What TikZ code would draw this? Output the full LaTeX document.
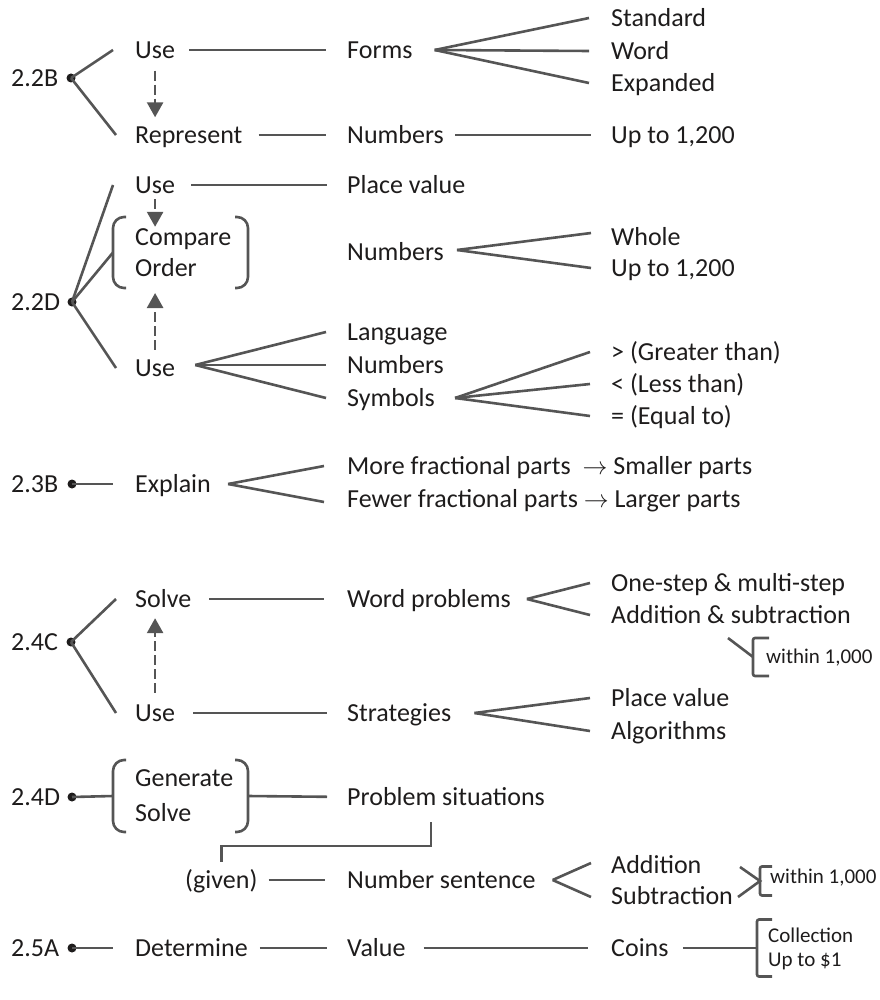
\documentclass[tikz,border=0pt]{standalone}
\usepackage{fontspec}
\setmainfont{Carlito}
\usetikzlibrary{arrows.meta}
\definecolor{lncol}{RGB}{85,85,85}
\definecolor{tx}{RGB}{30,28,28}
\begin{document}
\begin{tikzpicture}[x=1pt,y=-1pt,
  t/.style={anchor=west,inner sep=0pt,text height=17pt,text depth=0pt,font=\fontsize{26}{30}\selectfont,text=tx},
  ts/.style={anchor=west,inner sep=0pt,text height=13.5pt,text depth=0pt,font=\fontsize{21}{24}\selectfont,text=tx},
  dot/.style={circle,fill=tx,inner sep=0pt,minimum size=9pt},
  conn/.style={draw=lncol,line width=2.6pt},
  darr/.style={draw=lncol,line width=2.6pt,dash pattern=on 10pt off 4pt,-{Triangle[width=16pt,length=15pt]}},
  box/.style={inner sep=0pt,outer sep=0pt},
  bigbr/.style={draw=lncol,line width=2.6pt,rounded corners=11pt},
  smbr/.style={draw=lncol,line width=2.6pt,rounded corners=2pt}
]
\useasboundingbox (0,0) rectangle (879,1000);

% ---------- 2.2B ----------
\node[t] (l22b) at (11,78) {2.2B};
\node[dot] (b22) at (71,78) {};
\node[t] (use1) at (135,50) {Use};
\node[t] (forms) at (347,50) {Forms};
\node[t] (std) at (611,18) {Standard};
\node[t] (word) at (611,51) {Word};
\node[t] (expd) at (611,83) {Expanded};
\node[t] (rep) at (135,135) {Represent};
\node[t] (num1) at (347,135) {Numbers};
\node[t] (up1) at (611,135) {Up to 1,200};

\draw[conn] (b22.center) -- ([xshift=-22pt]use1.west);
\draw[conn] (b22.center) -- ([xshift=-19pt]rep.west);
\draw[conn,shorten <=14pt,shorten >=21pt] (use1.east) -- (forms.west);
\coordinate (fa) at ([xshift=22pt]forms.east);
\foreach \n in {std,word,expd} \draw[conn] (fa) -- ([xshift=-22pt]\n.west);
\draw[darr,shorten <=12pt,shorten >=9pt] (use1.south) -- (use1.south |- rep.north);
\draw[conn,shorten <=16pt,shorten >=21pt] (rep.east) -- (num1.west);
\draw[conn,shorten <=11pt,shorten >=20pt] (num1.east) -- (up1.west);

% ---------- 2.2D ----------
\node[t] (l22d) at (11,302) {2.2D};
\node[dot] (d22) at (72,302) {};
\node[t] (use2) at (135,185) {Use};
\node[t] (pv) at (347,185) {Place value};
\node[box,minimum width=135pt,minimum height=71pt,anchor=north west] (co) at (113,217) {};
\node[t] (cmp) at (135,237) {Compare};
\node[t] (ord) at (135,268) {Order};
\draw[bigbr] ([xshift=13pt]co.north west) -- (co.north west) -- (co.south west) -- ([xshift=13pt]co.south west);
\draw[bigbr] ([xshift=-13pt]co.north east) -- (co.north east) -- (co.south east) -- ([xshift=-13pt]co.south east);
\node[t] (num2) at (347,252) {Numbers};
\node[t] (whole) at (611,237) {Whole};
\node[t] (up2) at (611,268) {Up to 1,200};
\node[t] (use3) at (135,368) {Use};
\node[t] (lang) at (347,332) {Language};
\node[t] (num3) at (347,365) {Numbers};
\node[t] (sym) at (347,398) {Symbols};
\node[t] (gt) at (611,352) {> (Greater than)};
\node[t] (lt) at (611,384) {< (Less than)};
\node[t] (eq) at (611,416) {= (Equal to)};

\draw[conn] (d22.center) -- ([xshift=-22pt]use2.west);
\draw[conn] (d22.center) -- (co.west);
\draw[conn] (d22.center) -- ([xshift=-19pt]use3.west);
\draw[conn,shorten <=16pt,shorten >=20pt] (use2.east) -- (pv.west);
\draw[darr,shorten <=5.5pt,shorten >=1.5pt] (use2.south) -- (use2.south |- cmp.north);
\draw[darr,shorten <=9.5pt,shorten >=5pt] (use3.north) -- (use3.north |- co.south);
\coordinate (fb) at ([xshift=13pt,yshift=2pt]num2.east);
\draw[conn] (fb) -- ([xshift=-20pt,yshift=4pt]whole.west);
\draw[conn] (fb) -- ([xshift=-20pt]up2.west);
\coordinate (fc) at ([xshift=20pt,yshift=3pt]use3.east);
\foreach \n in {lang,num3,sym} \draw[conn] (fc) -- ([xshift=-21pt]\n.west);
\coordinate (fd) at ([xshift=20pt]sym.east);
\foreach \n in {gt,lt,eq} \draw[conn] (fd) -- ([xshift=-21pt]\n.west);

% ---------- 2.3B ----------
\node[t] (l23b) at (11,484) {2.3B};
\node[dot] (d23) at (72,484) {};
\node[t] (expl) at (135,484) {Explain};
\node[t] (more) at (347,466) {More fractional parts~~$\rightarrow$ Smaller parts};
\node[t] (fewer) at (347,499) {Fewer fractional parts $\rightarrow$ Larger parts};
\draw[conn] (d23.center) -- ([xshift=-22pt]expl.west);
\coordinate (fe) at ([xshift=17pt]expl.east);
\draw[conn] (fe) -- ([xshift=-23pt]more.west);
\draw[conn] (fe) -- ([xshift=-23pt,yshift=-3pt]fewer.west);

% ---------- 2.4C ----------
\node[t] (l24c) at (11,642) {2.4C};
\node[dot] (c24) at (71,642) {};
\node[t] (solve) at (135,599) {Solve};
\node[t] (wp) at (347,599) {Word problems};
\node[t] (one) at (611,583) {One-step \& multi-step};
\node[t] (add) at (611,615) {Addition \& subtraction};
\node[ts] (w1) at (766,657) {within 1,000};
\node[box,minimum width=16pt,minimum height=38pt,anchor=west] (w1b) at (753,657) {};
\node[t] (use4) at (135,713) {Use};
\node[t] (strat) at (347,713) {Strategies};
\node[t] (pv2) at (611,698) {Place value};
\node[t] (alg) at (611,731) {Algorithms};

\draw[conn] (c24.center) -- ([xshift=-19pt]solve.west);
\draw[conn] (c24.center) -- ([xshift=-19pt]use4.west);
\draw[conn,shorten <=18pt,shorten >=23pt] (solve.east) -- (wp.west);
\coordinate (ff) at ([xshift=16pt]wp.east);
\draw[conn] (ff) -- ([xshift=-21pt]one.west);
\draw[conn] (ff) -- ([xshift=-21pt]add.west);
\draw[smbr] (w1b.north east) -- (w1b.north west) -- (w1b.south west) -- (w1b.south east);
\coordinate (w1s) at ([xshift=-25pt]w1b.north west);
\draw[conn] (w1s) -- (w1b.west);
\draw[darr,shorten <=11.5pt,shorten >=10.5pt] (use4.north) -- (use4.north |- solve.south);
\draw[conn,shorten <=18pt,shorten >=20pt] (use4.east) -- (strat.west);
\coordinate (fg) at ([xshift=23pt]strat.east);
\draw[conn] (fg) -- ([xshift=-21pt]pv2.west);
\draw[conn] (fg) -- ([xshift=-21pt]alg.west);

% ---------- 2.4D ----------
\node[t] (l24d) at (11,797) {2.4D};
\node[dot] (d24) at (72,797) {};
\node[box,minimum width=135pt,minimum height=72pt,anchor=north west] (gs) at (113,760) {};
\node[t] (gen) at (135,778) {Generate};
\node[t] (slv) at (135,813) {Solve};
\draw[bigbr] ([xshift=13pt]gs.north west) -- (gs.north west) -- (gs.south west) -- ([xshift=13pt]gs.south west);
\draw[bigbr] ([xshift=-13pt]gs.north east) -- (gs.north east) -- (gs.south east) -- ([xshift=-13pt]gs.south east);
\node[t] (ps) at (347,797) {Problem situations};
\node[t] (given) at (185,880) {(given)};
\node[t] (ns) at (347,880) {Number sentence};
\node[t] (addn) at (611,865) {Addition};
\node[t] (sub) at (611,896) {Subtraction};
\node[ts] (w2) at (770,877) {within 1,000};
\node[box,minimum width=12pt,minimum height=29pt,anchor=west] (w2b) at (760,881) {};

\draw[conn] (d24.center) -- (gs.west);
\draw[conn,shorten >=20pt] (gs.east) -- (ps.west);
\coordinate (pse) at ([xshift=84pt,yshift=-25pt]ps.west);
\draw[conn] (pse) -- ++(0,24) -| ([yshift=9pt]given.north);
\draw[conn,shorten <=11pt,shorten >=22pt] (given.east) -- (ns.west);
\coordinate (fh) at ([xshift=17pt]ns.east);
\draw[conn] (fh) -- ([xshift=-20pt,yshift=2pt]addn.west);
\draw[conn] (fh) -- ([xshift=-20pt,yshift=-1pt]sub.west);
\draw[smbr] (w2b.north east) -- (w2b.north west) -- (w2b.south west) -- (w2b.south east);
\coordinate (w2t) at ([xshift=-20pt,yshift=14pt]w2b.west);
\coordinate (w2u) at ([xshift=-22pt,yshift=-16pt]w2b.west);
\draw[conn] (w2t) -- (w2b.west) -- (w2u);

% ---------- 2.5A ----------
\node[t] (l25a) at (11,948) {2.5A};
\node[dot] (d25) at (72,948) {};
\node[t] (det) at (135,948) {Determine};
\node[t] (val) at (347,948) {Value};
\node[t] (coins) at (611,948) {Coins};
\node[box,minimum width=15pt,minimum height=57pt,anchor=west] (cb) at (757,948) {};
\node[ts] (coll) at (768,936) {Collection};
\node[ts] (up3) at (768,960) {Up to \$1};

\draw[conn] (d25.center) -- ([xshift=-22pt]det.west);
\draw[conn,shorten <=12pt,shorten >=20pt] (det.east) -- (val.west);
\draw[conn,shorten <=18pt,shorten >=23pt] (val.east) -- (coins.west);
\draw[conn,shorten <=14pt] (coins.east) -- (cb.west);
\draw[smbr] (cb.north east) -- (cb.north west) -- (cb.south west) -- (cb.south east);
\end{tikzpicture}
\end{document}
